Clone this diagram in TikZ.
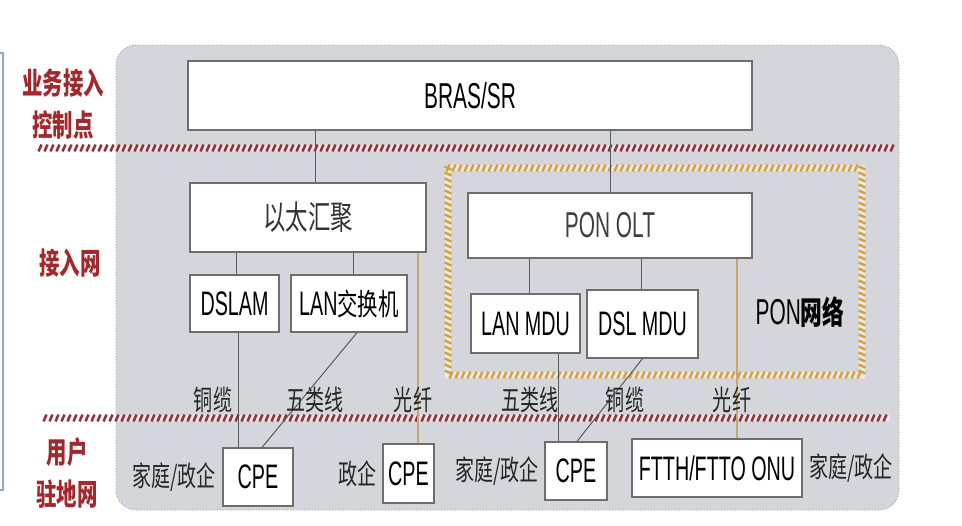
\documentclass[tikz,border=0pt]{standalone}
\usepackage{fontspec}
\setmainfont{Liberation Sans}[FakeStretch=0.58]
\newfontfamily\cjk{Noto Sans CJK SC}[FakeStretch=0.68]
\usetikzlibrary{positioning, decorations.markings}
\definecolor{panelgray}{HTML}{D4D6DB}
\definecolor{panelline}{HTML}{8E9096}
\definecolor{boxgray}{HTML}{6E6E6E}
\definecolor{linegray}{HTML}{5A5A5A}
\definecolor{fibretan}{HTML}{C4A874}
\definecolor{labelred}{HTML}{A3282D}
\definecolor{ropered}{HTML}{952F35}
\definecolor{ropeorange}{HTML}{D7A43C}
\definecolor{frameblue}{HTML}{8FA8C8}

\begin{document}
\begin{tikzpicture}[
    x=0.5pt, y=-0.5pt,
    box/.style={draw=boxgray, fill=white, line width=0.6pt, inner sep=0pt, font=\fontsize{17}{19}\selectfont},
    side/.style={text=labelred, align=center, font=\cjk\bfseries\fontsize{15}{21}\selectfont},
    media/.style={inner sep=0pt, text=black!85, font=\cjk\fontsize{14}{16}\selectfont},
    link/.style={draw=linegray, line width=0.5pt},
    fibre/.style={draw=fibretan, line width=0.7pt},
    rope/.style={preaction={draw=white, line width=2.6pt, opacity=0.5},
      postaction={decorate, decoration={markings,
        mark=between positions 0 and 1 step 3pt with {\draw[#1, line width=1.25pt] (-0.75pt,-1.7pt) -- (0.75pt,1.7pt);}}}}
]
  \useasboundingbox (0,0) rectangle (962,525);
  \draw[frameblue, line width=0.6pt] (0,53) -- (3,53) -- (3,490) -- (0,490);
  \draw[fill=panelgray, draw=panelline, densely dotted, rounded corners=10pt] (116,45) rectangle (899,510);

  \node[side] (ctrl) at (63,104) {业务接入\\控制点};
  \node[side] (acc) at (70,263) {接入网};
  \node[side] (prem) at (67,473) {用户\\驻地网};

  \path[rope=ropered] (40,148) -- (893,148);
  \path[rope=ropered] (45,418) -- (890,418);
  \path[rope=ropeorange] (448,168) rectangle (862,375);

  \node[box, minimum width=282pt, minimum height=34.5pt, font=\fontsize{18}{20}\selectfont] (bras) at (470,95.5) {BRAS/SR};
  \node[box, minimum width=118pt, minimum height=34.5pt, text=black!80, font=\cjk\fontsize{16.5}{18}\selectfont] (eth) at (308,217.5) {以太汇聚};
  \node[box, minimum width=142pt, minimum height=32.5pt, text=black!75, font=\fontsize{18}{20}\selectfont] (olt) at (610,225.5) {PON OLT};
  \node[box, minimum width=44.5pt, minimum height=28.5pt] (dslam) at (234.5,303.5) {DSLAM};
  \node[box, minimum width=58pt, minimum height=28.5pt] (lansw) at (349,303.5) {LAN{\cjk\fontsize{15}{17}\selectfont 交换机}};
  \node[box, minimum width=54.5pt, minimum height=29.5pt] (lanmdu) at (525.5,323.5) {LAN MDU};
  \node[box, minimum width=55.5pt, minimum height=34pt] (dslmdu) at (642.5,324) {DSL MDU};
  \node[font=\fontsize{18}{20}\selectfont] (pon) at (800,312) {PON{\cjk\bfseries\fontsize{16}{18}\selectfont 网络}};

  \node[box, minimum width=35pt, minimum height=29pt] (cpe1) at (258,477) {CPE};
  \node[box, minimum width=25.5pt, minimum height=29.5pt] (cpe2) at (408.5,473.5) {CPE};
  \node[box, minimum width=31pt, minimum height=29pt] (cpe3) at (576,471) {CPE};
  \node[box, minimum width=85pt, minimum height=29pt] (onu) at (717,468) {FTTH/FTTO ONU};

  \node[media, left=3pt of cpe1] (user1) {家庭/政企};
  \node[media, left=2.5pt of cpe2] (user2) {政企};
  \node[media, left=2.5pt of cpe3] (user3) {家庭/政企};
  \node[media, right=3pt of onu] (user4) {家庭/政企};

  \draw[link] ([xshift=3.5pt]eth.north) -- ([xshift=3.5pt]eth.north |- bras.south);
  \draw[link] (olt.north) -- (olt.north |- bras.south);
  \draw[link] ([xshift=0.75pt]dslam.north) -- ([xshift=0.75pt]dslam.north |- eth.south);
  \draw[link] ([xshift=2pt]lansw.north) -- ([xshift=2pt]lansw.north |- eth.south);
  \draw[link] ([xshift=1.75pt]dslam.south) -- ([xshift=1.75pt]dslam.south |- cpe1.north);
  \draw[link] ([xshift=4pt]lansw.south) -- ([xshift=2pt]cpe1.north);
  \draw[fibre] ([xshift=4.75pt]cpe2.north) -- ([xshift=4.75pt]cpe2.north |- eth.south);
  \draw[link] ([xshift=1.75pt]lanmdu.north) -- ([xshift=1.75pt]lanmdu.north |- olt.south);
  \draw[link] ([xshift=-0.75pt]dslmdu.north) -- ([xshift=-0.75pt]dslmdu.north |- olt.south);
  \draw[link] ([xshift=-9pt]cpe3.north) -- ([xshift=-9pt]cpe3.north |- lanmdu.south);
  \draw[link] (dslmdu.south) -- ([xshift=0.5pt]cpe3.north);
  \draw[fibre] ([xshift=10pt]onu.north) -- ([xshift=10pt]onu.north |- olt.south);

  \node[media] (cu1) at (213,400) {铜缆};
  \node[media] (cat1) at (315,400) {五类线};
  \node[media] (fo1) at (413,400) {光纤};
  \node[media] (cat2) at (530,400) {五类线};
  \node[media] (cu2) at (625,400) {铜缆};
  \node[media] (fo2) at (732,400) {光纤};
\end{tikzpicture}
\end{document}
